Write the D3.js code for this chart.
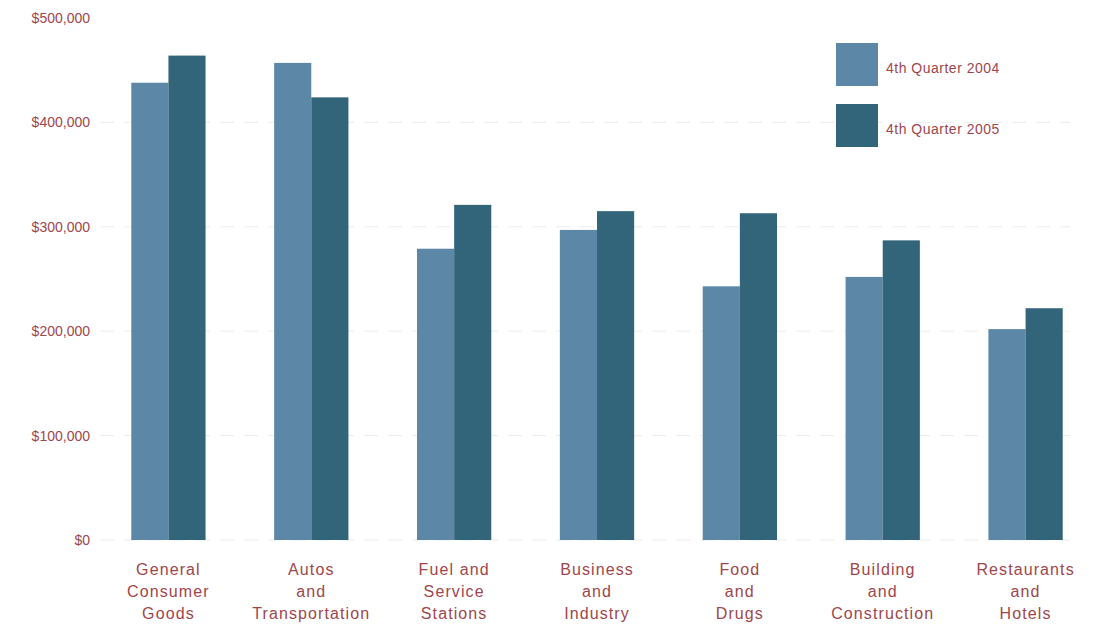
<!DOCTYPE html>
<html>
<head>
<meta charset="utf-8">
<script src="https://cdn.jsdelivr.net/npm/d3@7"></script>
<style>
  body { margin: 0; background: #fff; }
  text { font-family: "Liberation Sans", Arial, sans-serif; }
</style>
</head>
<body>
<div id="chart"></div>
<script>
// categories, each split into the lines shown under the bars
var categories = [
  ['General', 'Consumer', 'Goods'],
  ['Autos', 'and', 'Transportation'],
  ['Fuel and', 'Service', 'Stations'],
  ['Business', 'and', 'Industry'],
  ['Food', 'and', 'Drugs'],
  ['Building', 'and', 'Construction'],
  ['Restaurants', 'and', 'Hotels']
];
var seriesNames = ['4th Quarter 2004', '4th Quarter 2005'];
var q2004 = [438000, 457000, 279000, 297000, 243000, 252000, 202000];
var q2005 = [464000, 424000, 321000, 315000, 313000, 287000, 222000];
var yTicks = [0, 100000, 200000, 300000, 400000, 500000];

var width = 1093, height = 625;
var colors = ['#5c87a6', '#33657a'];
var textColor = '#9e464c';

var svg = d3.select('#chart').append('svg')
  .attr('width', width)
  .attr('height', height);

var y = d3.scaleLinear().domain([0, 500000]).range([540, 18]);

var x = d3.scaleBand()
  .domain(d3.range(categories.length))
  .range([97, 1097])
  .paddingInner(0.48)
  .paddingOuter(0.24);

var xs = d3.scaleBand()
  .domain([0, 1])
  .range([0, x.bandwidth()]);

// faint dashed gridlines
svg.append('g')
  .selectAll('line')
  .data(yTicks)
  .enter().append('line')
  .attr('x1', 100)
  .attr('x2', 1070)
  .attr('y1', function(d) { return y(d); })
  .attr('y2', function(d) { return y(d); })
  .style('stroke', function(d) { return d === 500000 ? 'none' : '#ececec'; })
  .style('stroke-dasharray', '14,10');

// y axis, labels only
var yAxis = svg.append('g')
  .attr('transform', 'translate(90,0)')
  .call(d3.axisLeft(y)
    .tickValues(yTicks)
    .tickSize(0)
    .tickPadding(0)
    .tickFormat(function(d) { return '$' + d3.format(',')(d); }));
yAxis.select('.domain').remove();
yAxis.selectAll('.tick text')
  .style('font-size', '14px')
  .style('fill', textColor);

// bars
var data = categories.map(function(c, i) { return [q2004[i], q2005[i]]; });

var groups = svg.append('g')
  .selectAll('g')
  .data(data)
  .enter().append('g')
  .attr('transform', function(d, i) { return 'translate(' + x(i) + ',0)'; });

groups.selectAll('rect')
  .data(function(d) { return d; })
  .enter().append('rect')
  .attr('x', function(d, j) { return xs(j); })
  .attr('y', function(d) { return y(d); })
  .attr('width', xs.bandwidth())
  .attr('height', function(d) { return y(0) - y(d); })
  .style('fill', function(d, j) { return colors[j]; });

// category labels
var labels = svg.append('g')
  .selectAll('text')
  .data(categories)
  .enter().append('text')
  .attr('text-anchor', 'middle')
  .attr('x', function(d, i) { return x(i) + x.bandwidth() / 2; })
  .attr('y', 575)
  .style('font-size', '16px')
  .style('letter-spacing', '1.1px')
  .style('fill', textColor);

labels.selectAll('tspan')
  .data(function(d) { return d; })
  .enter().append('tspan')
  .attr('x', function() { return d3.select(this.parentNode).attr('x'); })
  .attr('dy', function(d, k) { return k === 0 ? 0 : 22; })
  .text(function(d) { return d; });

// legend
var legend = svg.append('g')
  .selectAll('g')
  .data(seriesNames)
  .enter().append('g')
  .attr('transform', function(d, i) { return 'translate(836,' + (43 + i * 61) + ')'; });

legend.append('rect')
  .attr('width', 42)
  .attr('height', 43)
  .style('fill', function(d, i) { return colors[i]; });

legend.append('text')
  .attr('x', 50)
  .attr('y', 30)
  .style('font-size', '14px')
  .style('letter-spacing', '0.5px')
  .style('fill', textColor)
  .text(function(d) { return d; });
</script>
</body>
</html>
